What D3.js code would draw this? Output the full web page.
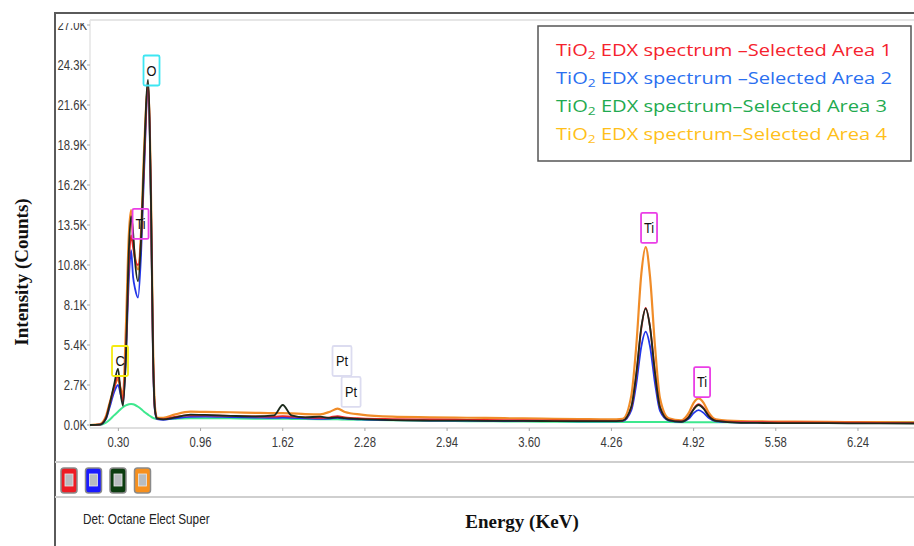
<!DOCTYPE html>
<html>
<head>
<meta charset="utf-8">
<script src="https://cdn.jsdelivr.net/npm/d3@7"></script>
<style>
  body { margin: 0; background: #fff; }
  svg { display: block; }
</style>
</head>
<body>
<div id="chart"></div>
<script>
// energy grid (keV)
const energy = [0.07, 0.15, 0.20, 0.23, 0.265, 0.297, 0.32, 0.337, 0.36, 0.385, 0.402, 0.418, 0.434, 0.458, 0.482, 0.506, 0.538, 0.562, 0.578, 0.594, 0.61, 0.66, 0.75, 0.88, 1.00, 1.20, 1.40, 1.55, 1.62, 1.69, 1.80, 1.92, 2.00, 2.06, 2.12, 2.25, 2.50, 2.80, 3.10, 3.40, 3.70, 4.00, 4.25, 4.35, 4.42, 4.46, 4.50, 4.535, 4.57, 4.61, 4.65, 4.72, 4.82, 4.88, 4.92, 4.96, 5.00, 5.04, 5.10, 5.30, 5.60, 6.00, 6.40, 6.75]

// counts per selected area
const area1 = [0, 30, 500, 1400, 2500, 3300, 2300, 1600, 5000, 11000, 12800, 12000, 11200, 10800, 12500, 17500, 23000, 15000, 5000, 1000, 450, 400, 550, 650, 650, 620, 580, 560, 600, 560, 520, 480, 520, 600, 520, 450, 400, 370, 350, 330, 310, 290, 280, 300, 1200, 3400, 6500, 7900, 6600, 3500, 1200, 350, 260, 550, 1100, 1400, 1150, 650, 300, 200, 180, 160, 150, 140]
const area2 = [0, 20, 400, 1200, 2200, 2700, 2000, 1500, 4500, 10000, 11800, 10000, 9200, 8600, 11500, 17000, 22600, 14500, 4500, 900, 400, 350, 450, 550, 560, 530, 500, 480, 500, 480, 450, 420, 440, 480, 430, 380, 330, 300, 290, 270, 260, 250, 240, 260, 1000, 2800, 5300, 6300, 5300, 2800, 950, 300, 220, 420, 800, 1000, 820, 480, 250, 170, 150, 140, 130, 120]
const area3 = [0, 20, 450, 1400, 2700, 3800, 2000, 1300, 4600, 12000, 14100, 13000, 11000, 9700, 12500, 18000, 23300, 15000, 5000, 1000, 450, 380, 500, 700, 680, 620, 580, 650, 1350, 650, 520, 560, 480, 520, 460, 400, 330, 300, 290, 280, 270, 260, 260, 300, 1250, 3500, 6600, 7850, 6600, 3500, 1200, 330, 220, 520, 1050, 1350, 1100, 620, 280, 150, 130, 120, 110, 100]
const area4 = [0, 60, 600, 1500, 2500, 3100, 2400, 2000, 6500, 13000, 14500, 12500, 11300, 10500, 13000, 18500, 22800, 15500, 5500, 1200, 500, 480, 700, 900, 880, 860, 820, 800, 800, 780, 740, 720, 900, 1100, 880, 700, 560, 520, 490, 460, 430, 400, 380, 420, 2000, 5400, 10200, 12000, 10000, 5300, 1800, 450, 320, 800, 1500, 1800, 1500, 850, 380, 260, 230, 210, 190, 170]
// fitted background
const background = [0, 0, 150, 350, 650, 900, 1080, 1200, 1320, 1400, 1420, 1400, 1350, 1230, 1080, 900, 700, 560, 480, 430, 400, 400, 420, 450, 460, 450, 430, 420, 420, 410, 400, 390, 385, 380, 375, 360, 320, 290, 260, 240, 220, 200, 195, 195, 195, 195, 195, 195, 195, 195, 195, 195, 190, 190, 190, 190, 190, 190, 190, 185, 185, 180, 180, 180]

const legendLabels = ["EDX spectrum \u2013Selected Area 1", "EDX spectrum \u2013Selected Area 2", "EDX spectrum\u2013Selected Area 3", "EDX spectrum\u2013Selected Area 4"]
const legendColors = ["#f5222d", "#2a6ff0", "#1faa50", "#ffbf1a"]
const lineColors = ["#e8262a", "#2236e8", "#1c2a1c", "#f08c28"]
const swatchColors = ["#ee1c24", "#1a1aff", "#0c3d10", "#f7901e"]

const yTicks = [0, 2700, 5400, 8100, 10800, 13500, 16200, 18900, 21600, 24300, 27000]
const xTicks = [0.30, 0.96, 1.62, 2.28, 2.94, 3.60, 4.26, 4.92, 5.58, 6.24]

// peak labels (energy, counts at box centre)
const peakLabels = [
  { text: "O", e: 0.566, v: 23930, color: "#3ee6f2" },
  { text: "Ti", e: 0.478, v: 13570, color: "#ea3fe6" },
  { text: "C", e: 0.313, v: 4320, color: "#f4ea10" },
  { text: "Ti", e: 4.562, v: 13300, color: "#ea3fe6" },
  { text: "Ti", e: 4.988, v: 2900, color: "#ea3fe6" },
  { text: "Pt", e: 2.096, v: 4320, color: "#dcdcf0" },
  { text: "Pt", e: 2.169, v: 2230, color: "#dcdcf0" }
]

const width = 914
const height = 546
const plot = { left: 90, right: 914, top: 20, bottom: 425 }
const narrowFont = "'Liberation Sans', Arial, sans-serif"

const svg = d3.select("#chart").append("svg")
  .attr("width", width)
  .attr("height", height)

const x = d3.scaleLinear().domain([0.072, 6.69]).range([plot.left, plot.right])
const y = d3.scaleLinear().domain([0, 27000]).range([plot.bottom, 25])

// clip for plot and y labels
const defs = svg.append("defs")
defs.append("clipPath").attr("id", "plotClip")
  .append("rect").attr("x", plot.left).attr("y", plot.top)
  .attr("width", plot.right - plot.left).attr("height", plot.bottom - plot.top + 4)
defs.append("clipPath").attr("id", "axisClip")
  .append("rect").attr("x", 56).attr("y", 23).attr("width", 40).attr("height", 420)

// outer frame
svg.append("path")
  .attr("d", `M55,${height + 2} L55,13 L${width + 2},13`)
  .attr("fill", "none").attr("stroke", "#5a5a5a").attr("stroke-width", 2)

// plot border lines (light)
svg.append("line").attr("x1", plot.left).attr("x2", width).attr("y1", plot.top).attr("y2", plot.top)
  .attr("stroke", "#dedede").attr("stroke-width", 1.5)
svg.append("line").attr("x1", plot.left).attr("x2", plot.left).attr("y1", plot.top).attr("y2", 428)
  .attr("stroke", "#e4e4e4").attr("stroke-width", 1.5)

// y axis (labels squeezed horizontally like the original condensed font)
const yAxis = svg.append("g").attr("clip-path", "url(#axisClip)")
yTicks.forEach(t => {
  yAxis.append("line").attr("x1", 87).attr("x2", 90).attr("y1", y(t)).attr("y2", y(t))
    .attr("stroke", "#aaa")
  yAxis.append("text")
    .attr("transform", `translate(87,${y(t)}) scale(0.78,1)`)
    .attr("dy", "0.35em")
    .attr("text-anchor", "end")
    .attr("font-family", narrowFont)
    .attr("font-size", 14.5).attr("fill", "#3a3a3a")
    .text((t / 1000).toFixed(1) + "K")
})

// x axis
svg.append("line").attr("x1", plot.left).attr("x2", width).attr("y1", 428).attr("y2", 428)
  .attr("stroke", "#d4d4d4").attr("stroke-width", 1.5)
xTicks.forEach(t => {
  svg.append("line").attr("x1", x(t)).attr("x2", x(t)).attr("y1", 428).attr("y2", 431)
    .attr("stroke", "#aaa")
  svg.append("text")
    .attr("transform", `translate(${x(t)},447) scale(0.78,1)`)
    .attr("text-anchor", "middle")
    .attr("font-family", narrowFont)
    .attr("font-size", 14.5).attr("fill", "#3a3a3a")
    .text(t.toFixed(2))
})

// spectra
const lineGen = d3.line()
  .x((d, i) => x(energy[i]))
  .y(d => y(d))
  .curve(d3.curveMonotoneX)

const plotG = svg.append("g").attr("clip-path", "url(#plotClip)")
plotG.append("path").datum(background)
  .attr("d", lineGen).attr("fill", "none")
  .attr("stroke", "#3ee88e").attr("stroke-width", 2)

const series = [area4, area2, area1, area3]
const seriesColors = [lineColors[3], lineColors[1], lineColors[0], lineColors[2]]
series.forEach((s, k) => {
  plotG.append("path").datum(s)
    .attr("d", lineGen).attr("fill", "none")
    .attr("stroke", seriesColors[k])
    .attr("stroke-width", k === 0 ? 2.2 : 1.8)
    .attr("stroke-linejoin", "round")
})

// peak label boxes
peakLabels.forEach(p => {
  const cx = x(p.e)
  const cy = y(p.v)
  const w = p.text === "Pt" ? 19 : 16
  svg.append("rect")
    .attr("x", cx - w / 2).attr("y", cy - 15)
    .attr("width", w).attr("height", 30)
    .attr("fill", "#fff").attr("fill-opacity", p.text === "Pt" ? 1 : 0)
    .attr("stroke", p.color).attr("stroke-width", 1.8)
    .attr("rx", 1.5)
  svg.append("text")
    .attr("transform", `translate(${cx},${cy}) scale(0.85,1)`)
    .attr("dy", "0.35em")
    .attr("text-anchor", "middle")
    .attr("font-family", narrowFont)
    .attr("font-size", 15).attr("fill", "#111")
    .text(p.text)
})

// legend
svg.append("rect")
  .attr("x", 538).attr("y", 26).attr("width", 373).attr("height", 135)
  .attr("fill", "#fff").attr("stroke", "#555").attr("stroke-width", 1.5)
const legendWidths = [336, 336, 331, 331]
legendLabels.forEach((lab, i) => {
  const t = svg.append("text")
    .attr("x", 556).attr("y", 56 + i * 28)
    .attr("font-family", "'Open Sans', 'Noto Sans', sans-serif")
    .attr("font-size", 16).attr("fill", legendColors[i])
    .attr("textLength", legendWidths[i]).attr("lengthAdjust", "spacingAndGlyphs")
  t.append("tspan").text("TiO")
  t.append("tspan").attr("font-size", 11).attr("dy", 3).text("2")
  t.append("tspan").attr("dy", -3).text(" " + lab)
})

// bottom panel
svg.append("line").attr("x1", 55).attr("x2", width).attr("y1", 462).attr("y2", 462)
  .attr("stroke", "#cfcfcf").attr("stroke-width", 2)
svg.append("line").attr("x1", 55).attr("x2", width).attr("y1", 497).attr("y2", 497)
  .attr("stroke", "#cfcfcf").attr("stroke-width", 2)

swatchColors.forEach((c, i) => {
  const sx = 61 + i * 24.5
  svg.append("rect")
    .attr("x", sx).attr("y", 468).attr("width", 16).attr("height", 25)
    .attr("rx", 3).attr("fill", c).attr("stroke", "#8a8a8a").attr("stroke-width", 1.5)
  svg.append("rect")
    .attr("x", sx + 4).attr("y", 474).attr("width", 8).attr("height", 12)
    .attr("fill", "#b8bcc0").attr("stroke", "#e8e8e8").attr("stroke-width", 0.8)
})

svg.append("text")
  .attr("transform", "translate(83,524) scale(0.81,1)")
  .attr("font-family", narrowFont)
  .attr("font-size", 14.5).attr("fill", "#222")
  .text("Det: Octane Elect Super")

svg.append("text")
  .attr("x", 522).attr("y", 528)
  .attr("text-anchor", "middle")
  .attr("font-family", "'Liberation Serif', 'Times New Roman', serif")
  .attr("font-weight", "bold").attr("font-size", 19).attr("fill", "#111")
  .text("Energy (KeV)")

svg.append("text")
  .attr("transform", "translate(28,272) rotate(-90)")
  .attr("text-anchor", "middle")
  .attr("font-family", "'Liberation Serif', 'Times New Roman', serif")
  .attr("font-weight", "bold").attr("font-size", 19).attr("fill", "#111")
  .text("Intensity (Counts)")
</script>
</body>
</html>
